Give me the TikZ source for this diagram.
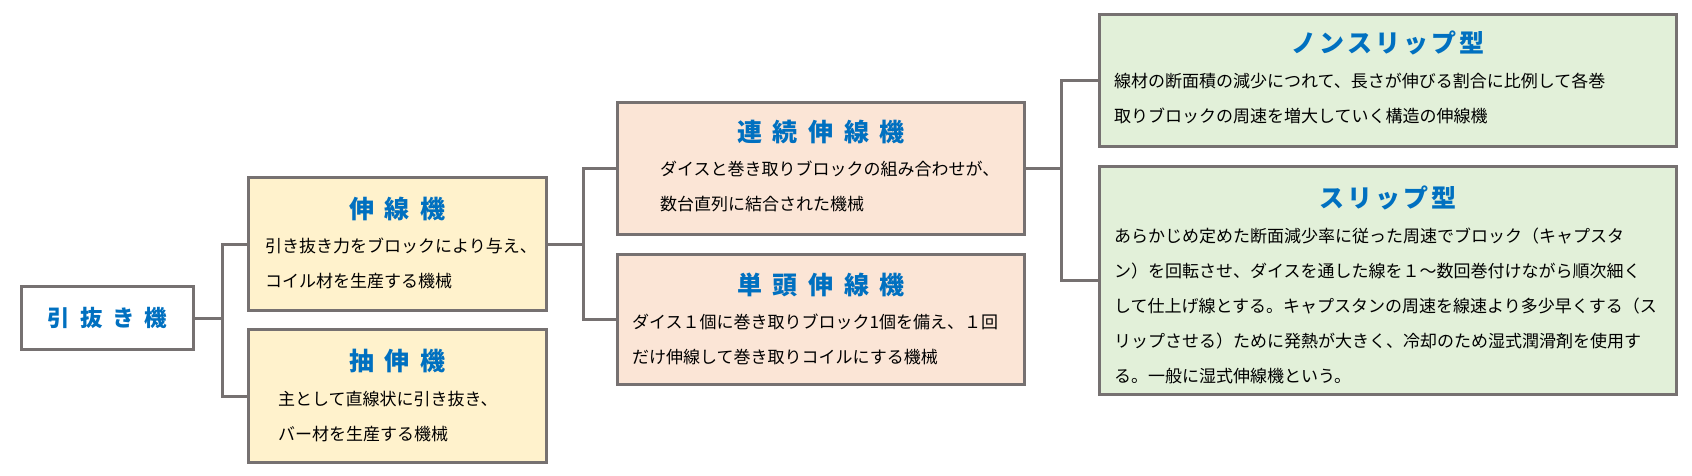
\documentclass[tikz,border=0pt]{standalone}
\usepackage{fontspec}
\setmainfont{Noto Sans CJK JP}
\newfontfamily\ttlfont[LetterSpace=12]{Noto Sans CJK JP}
\usepackage{xcolor}
\usepackage{tikz}
\definecolor{lineGray}{HTML}{767171}
\definecolor{titleBlue}{HTML}{0070C0}
\definecolor{boxYellow}{HTML}{FFF2CC}
\definecolor{boxPink}{HTML}{FBE5D6}
\definecolor{boxGreen}{HTML}{E2F0D9}
\newcommand\tgap{\hspace{0.43em}}

\begin{document}
\begin{tikzpicture}[x=1pt, y=-1pt,
  box/.style={draw=lineGray, line width=3pt, inner sep=0pt},
  ttl/.style={text=titleBlue, inner sep=0pt, font=\ttlfont\bfseries\fontsize{25pt}{30pt}\selectfont},
  body/.style={anchor=north west, inner sep=0pt, align=left, font=\fontsize{17pt}{35pt}\selectfont},
  conn/.style={draw=lineGray, line width=3pt}]
  \useasboundingbox (0,0) rectangle (1692,475);

  % boxes
  \node[box, fill=white, minimum width=172pt, minimum height=63pt] (root) at (107.5,318) {};
  \node[box, fill=boxYellow, minimum width=298pt, minimum height=133pt] (senken) at (397.5,244) {};
  \node[box, fill=boxYellow, minimum width=298pt, minimum height=133pt] (chushin) at (397.5,396) {};
  \node[box, fill=boxPink, minimum width=407pt, minimum height=132pt] (renzoku) at (821,168.5) {};
  \node[box, fill=boxPink, minimum width=407pt, minimum height=130pt] (tanto) at (821,319.5) {};
  \node[box, fill=boxGreen, minimum width=577pt, minimum height=132pt] (nonslip) at (1388,80.5) {};
  \node[box, fill=boxGreen, minimum width=577pt, minimum height=228pt] (slip) at (1388,280.5) {};

  % titles
  \node[ttl, font=\ttlfont\bfseries\fontsize{22.5pt}{27pt}\selectfont] (root-t) at (root.center) {引\tgap 抜\tgap き\tgap 機};
  \node[ttl] (senken-t) at ([yshift=-33pt]senken.north) {伸\tgap 線\tgap 機};
  \node[ttl] (chushin-t) at ([yshift=-33pt]chushin.north) {抽\tgap 伸\tgap 機};
  \node[ttl] (renzoku-t) at ([yshift=-31pt]renzoku.north) {連\tgap 続\tgap 伸\tgap 線\tgap 機};
  \node[ttl] (tanto-t) at ([yshift=-32pt]tanto.north) {単\tgap 頭\tgap 伸\tgap 線\tgap 機};
  \node[ttl] (nonslip-t) at ([yshift=-30pt]nonslip.north) {ノンスリップ型};
  \node[ttl] (slip-t) at ([yshift=-33pt]slip.north) {スリップ型};

  % texts
  \node[body] (senken-b) at ([xshift=18pt, yshift=-62pt]senken.north west)
    {引き抜き力をブロックにより与え、\\コイル材を生産する機械};
  \node[body] (chushin-b) at ([xshift=31pt, yshift=-63pt]chushin.north west)
    {主として直線状に引き抜き、\\バー材を生産する機械};
  \node[body] (renzoku-b) at ([xshift=44pt, yshift=-60pt]renzoku.north west)
    {ダイスと巻き取りブロックの組み合わせが、\\数台直列に結合された機械};
  \node[body] (tanto-b) at ([xshift=16pt, yshift=-61pt]tanto.north west)
    {ダイス１個に巻き取りブロック1個を備え、１回\\だけ伸線して巻き取りコイルにする機械};
  \node[body] (nonslip-b) at ([xshift=16pt, yshift=-60pt]nonslip.north west)
    {線材の断面積の減少につれて、長さが伸びる割合に比例して各巻\\取りブロックの周速を増大していく構造の伸線機};
  \node[body] (slip-b) at ([xshift=16pt, yshift=-63pt]slip.north west)
    {あらかじめ定めた断面減少率に従った周速でブロック（キャプスタ\\ン）を回転させ、ダイスを通した線を１～数回巻付けながら順次細く\\して仕上げ線とする。キャプスタンの周速を線速より多少早くする（ス\\リップさせる）ために発熱が大きく、冷却のため湿式潤滑剤を使用す\\る。一般に湿式伸線機という。};

  % connectors
  \draw[conn] (root.east) -- ++(27,0) |- (senken.west);
  \draw[conn] (root.east) -- ++(27,0) |- (chushin.west);
  \draw[conn] (senken.east) -- ++(35,0) |- (renzoku.west);
  \draw[conn] (senken.east) -- ++(35,0) |- (tanto.west);
  \draw[conn] (renzoku.east) -- ++(35,0) |- (nonslip.west);
  \draw[conn] (renzoku.east) -- ++(35,0) |- (slip.west);
\end{tikzpicture}
\end{document}
